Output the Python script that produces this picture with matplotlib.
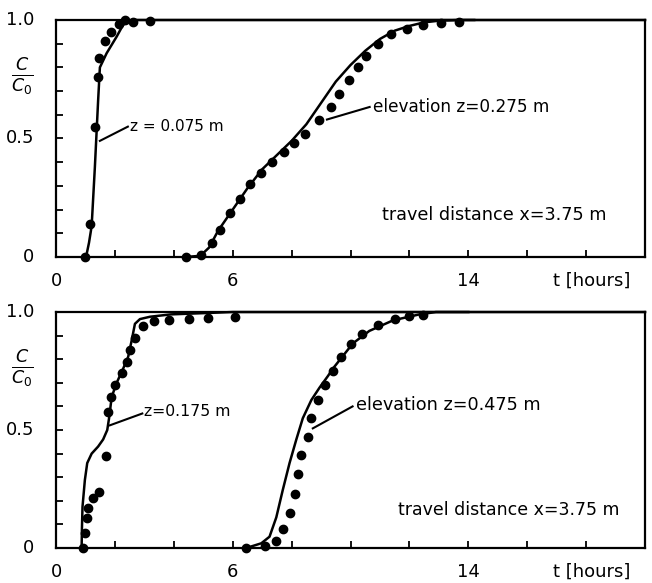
import matplotlib.pyplot as plt
import numpy as np

plt.rcParams["font.family"] = ["DejaVu Sans"]
plt.rcParams["mathtext.fontset"] = "dejavusans"

# top panel, z = 0.075 m
t_a_obs = [1.0, 1.15, 1.32, 1.41, 1.45, 1.66, 1.86, 2.15, 2.35, 2.6, 3.2]
c_a_obs = [0.0, 0.14, 0.55, 0.76, 0.84, 0.91, 0.95, 0.985, 1.0, 0.99, 0.995]
t_a_sim = [1.02, 1.12, 1.21, 1.32, 1.43, 1.49, 1.72, 2.06, 2.28, 2.6, 4.0, 20.0]
c_a_sim = [0.0, 0.06, 0.13, 0.38, 0.66, 0.80, 0.86, 0.93, 0.98, 1.0, 1.0, 1.0]

# top panel, z = 0.275 m
t_b_obs = [4.41, 4.94, 5.30, 5.58, 5.90, 6.26, 6.60, 6.97, 7.35, 7.73, 8.08, 8.44,
           8.93, 9.34, 9.60, 9.94, 10.25, 10.53, 10.93, 11.38, 11.91, 12.45, 13.07, 13.7]
c_b_obs = [0.0, 0.01, 0.058, 0.114, 0.187, 0.243, 0.307, 0.356, 0.40, 0.444, 0.48, 0.52,
           0.58, 0.634, 0.686, 0.747, 0.80, 0.848, 0.90, 0.94, 0.963, 0.98, 0.986, 0.99]
t_b_sim = [4.4, 4.9, 5.2, 5.5, 6.0, 6.5, 7.0, 7.5, 8.0, 8.5, 9.0, 9.5, 10.0, 10.5,
           11.0, 11.5, 12.0, 12.5, 13.0, 13.7, 14.2]
c_b_sim = [0.0, 0.005, 0.04, 0.11, 0.2, 0.29, 0.37, 0.43, 0.49, 0.56, 0.65, 0.74, 0.81,
           0.87, 0.92, 0.955, 0.975, 0.99, 0.997, 1.0, 1.0]

# bottom panel, z = 0.175 m
t_c_obs = [0.93, 0.98, 1.06, 1.10, 1.24, 1.47, 1.69, 1.77, 1.86, 2.0, 2.25, 2.42,
           2.51, 2.68, 2.94, 3.32, 3.84, 4.51, 5.16, 6.07]
c_c_obs = [0.0, 0.065, 0.126, 0.168, 0.21, 0.236, 0.39, 0.577, 0.64, 0.69, 0.74, 0.79,
           0.84, 0.89, 0.94, 0.96, 0.965, 0.97, 0.975, 0.98]
t_c_sim = [0.87, 0.88, 0.90, 0.98, 1.06, 1.21, 1.43, 1.60, 1.74, 1.81, 1.89, 2.06,
           2.28, 2.45, 2.57, 2.68, 2.85, 3.19, 3.9, 6.0, 20.0]
c_c_sim = [0.0, 0.08, 0.175, 0.288, 0.36, 0.40, 0.43, 0.46, 0.50, 0.557, 0.64, 0.70,
           0.76, 0.81, 0.88, 0.95, 0.97, 0.98, 0.99, 1.0, 1.0]

# bottom panel, z = 0.475 m
t_d_obs = [6.46, 7.08, 7.48, 7.70, 7.93, 8.10, 8.21, 8.33, 8.55, 8.67, 8.89, 9.12,
           9.40, 9.68, 10.02, 10.4, 10.93, 11.5, 11.98, 12.47]
c_d_obs = [0.0, 0.01, 0.03, 0.08, 0.147, 0.229, 0.314, 0.394, 0.472, 0.55, 0.627, 0.69,
           0.75, 0.81, 0.864, 0.907, 0.945, 0.969, 0.983, 0.987]
t_d_sim = [6.46, 6.97, 7.25, 7.48, 7.70, 7.93, 8.16, 8.38, 8.67, 8.95, 9.24, 9.40,
           10.08, 10.64, 11.45, 12.34, 12.9, 14.0]
c_d_sim = [0.0, 0.02, 0.048, 0.13, 0.246, 0.36, 0.46, 0.55, 0.627, 0.68, 0.73, 0.76,
           0.867, 0.92, 0.965, 0.99, 1.0, 1.0]

x_ticks = np.arange(0, 21, 2)
y_ticks = np.arange(0, 1.01, 0.1)

fig = plt.figure(figsize=(6.52, 5.83), dpi=100)
ax_top = fig.add_axes([0.0859, 0.5592, 0.9034, 0.4065])
ax_bot = fig.add_axes([0.0859, 0.0600, 0.9034, 0.4048])

panels = [
    (ax_top, t_a_obs, c_a_obs, t_a_sim, c_a_sim, t_b_obs, c_b_obs, t_b_sim, c_b_sim),
    (ax_bot, t_c_obs, c_c_obs, t_c_sim, c_c_sim, t_d_obs, c_d_obs, t_d_sim, c_d_sim),
]

for ax, t1o, c1o, t1s, c1s, t2o, c2o, t2s, c2s in panels:
    ax.plot(t1s, c1s, color="black", lw=1.8, clip_on=False, zorder=3)
    ax.plot(t2s, c2s, color="black", lw=1.8, clip_on=False, zorder=3)
    ax.plot(t1o, c1o, "o", color="black", ms=6, clip_on=False, zorder=4)
    ax.plot(t2o, c2o, "o", color="black", ms=6, clip_on=False, zorder=4)
    ax.set_xlim(0, 20)
    ax.set_ylim(0, 1)
    ax.set_xticks(x_ticks)
    ax.set_yticks(y_ticks)
    ax.tick_params(direction="in", length=5, width=1.3, labelbottom=False,
                   labelleft=False)
    for s in ax.spines.values():
        s.set_linewidth(1.6)
    # axis labels written by hand like the original drawing
    for v, lab in [(0, "0"), (6, "6"), (14, "14")]:
        ax.text(v, -0.1, lab, ha="center", va="center", fontsize=13)
    ax.text(18.2, -0.1, "t [hours]", ha="center", va="center", fontsize=13)
    for v, lab in [(0, "0"), (0.5, "0.5"), (1.0, "1.0")]:
        ax.text(-0.75, v, lab, ha="right", va="center", fontsize=13)
    ax.text(-1.15, 0.76, r"$\frac{C}{C_0}$", ha="center", va="center", fontsize=18)

# annotations
ax_top.plot([1.49, 2.44], [0.49, 0.55], color="black", lw=1.5)
ax_top.text(2.5, 0.55, "z = 0.075 m", ha="left", va="center", fontsize=11)
ax_top.plot([9.2, 10.65], [0.58, 0.633], color="black", lw=1.5)
ax_top.text(10.75, 0.633, "elevation z=0.275 m", ha="left", va="center", fontsize=12.2)
ax_top.text(11.08, 0.177, "travel distance x=3.75 m", ha="left", va="center",
            fontsize=12.7)

ax_bot.plot([1.83, 2.93], [0.52, 0.57], color="black", lw=1.5)
ax_bot.text(2.98, 0.577, "z=0.175 m", ha="left", va="center", fontsize=11.3)
ax_bot.plot([8.72, 10.07], [0.507, 0.60], color="black", lw=1.5)
ax_bot.text(10.2, 0.606, "elevation z=0.475 m", ha="left", va="center", fontsize=12.7)
ax_bot.text(11.6, 0.16, "travel distance x=3.75 m", ha="left", va="center",
            fontsize=12.5)

fig.savefig("out.png", dpi=100)
